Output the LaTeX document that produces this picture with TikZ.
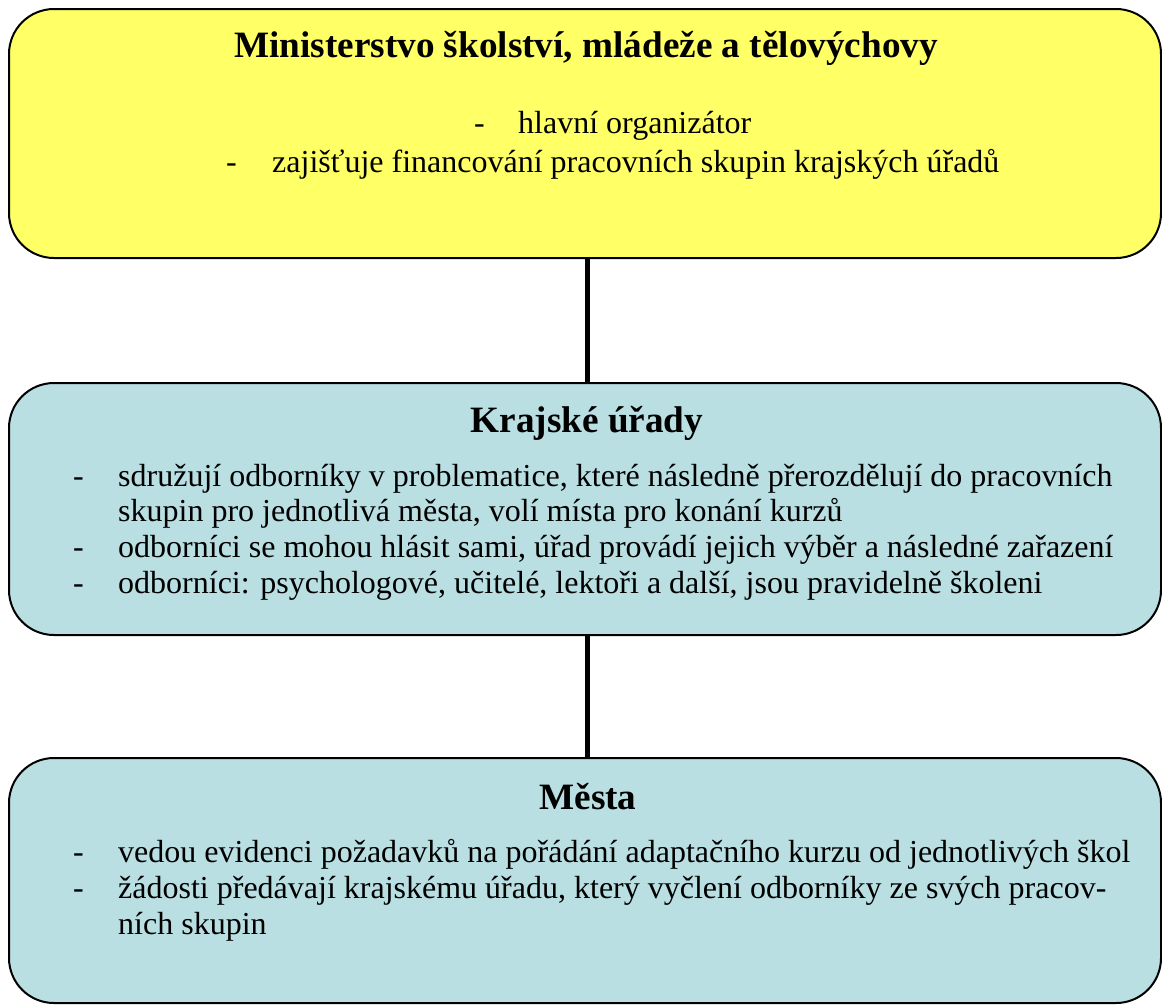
\documentclass[tikz,border=0pt]{standalone}
\usepackage{fontspec}
\setmainfont{Liberation Serif}
\definecolor{ylw}{RGB}{255,255,102}
\definecolor{lblue}{RGB}{185,223,227}
\begin{document}
\begin{tikzpicture}[x=1pt,y=-1pt,
  box/.style={draw=black, line width=2pt, rounded corners=45pt, minimum width=1152pt, inner sep=0pt},
  conn/.style={draw=black, line width=5pt},
  ttl/.style={inner sep=0pt, anchor=base, font=\fontsize{37.2}{41}\selectfont\bfseries},
  txt/.style={inner sep=0pt, anchor=base west, font=\fontsize{32}{36}\selectfont}]
\useasboundingbox (0,0) rectangle (1162,1005);
% boxes
\node[box, fill=ylw, minimum height=249pt] (ms) at (585,133.5) {};
\node[box, fill=lblue, minimum height=252pt] (ku) at (585,509) {};
\node[box, fill=lblue, minimum height=245pt] (me) at (585,880.5) {};
% connectors
\draw[conn] ([xshift=2pt]ms.south) -- ([xshift=2pt]ku.north);
\draw[conn] ([xshift=2pt]ku.south) -- ([xshift=2pt]me.north);
% top box
\node[ttl] (mst) at (586,57) {Ministerstvo školství, mládeže a tělovýchovy};
\node[txt] (ms1d) at (474,133) {-};
\node[txt] (ms1) at (518,133) {hlavní organizátor};
\node[txt] (ms2d) at (226,172) {-};
\node[txt] (ms2) at (272,172) {zajišťuje financování pracovních skupin krajských úřadů};
% middle box
\node[ttl] (kut) at (587,432) {Krajské úřady};
\node[txt] (ku1d) at (73,486) {-};
\node[txt] (ku1) at (118,486) {sdružují odborníky v problematice, které následně přerozdělují do pracovních};
\node[txt] (ku1b) at (118,521) {skupin pro jednotlivá města, volí místa pro konání kurzů};
\node[txt] (ku2d) at (73,557) {-};
\node[txt] (ku2) at (118,557) {odborníci se mohou hlásit sami, úřad provádí jejich výběr a následné zařazení};
\node[txt] (ku3d) at (73,593) {-};
\node[txt] (ku3) at (118,593) {odborníci: psychologové, učitelé, lektoři a další, jsou pravidelně školeni};
% bottom box
\node[ttl] (met) at (588,809) {Města};
\node[txt] (me1d) at (73,862) {-};
\node[txt] (me1) at (118,862) {vedou evidenci požadavků na pořádání adaptačního kurzu od jednotlivých škol};
\node[txt] (me2d) at (73,898) {-};
\node[txt] (me2) at (118,898) {žádosti předávají krajskému úřadu, který vyčlení odborníky ze svých pracov-};
\node[txt] (me2b) at (118,934) {ních skupin};
\end{tikzpicture}
\end{document}
